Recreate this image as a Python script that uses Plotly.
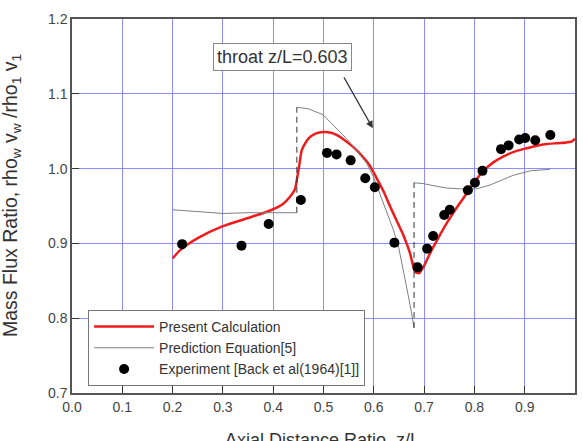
import plotly.graph_objects as go

# Present Calculation (red)
calc_x = [0.2, 0.215, 0.25, 0.30, 0.35, 0.394, 0.42, 0.433, 0.443, 0.447, 0.452, 0.457, 0.47, 0.485,
          0.5, 0.515, 0.526, 0.54, 0.559, 0.575, 0.592, 0.605, 0.619, 0.632, 0.645, 0.66, 0.672, 0.682,
          0.69, 0.70, 0.712, 0.728, 0.745, 0.765, 0.785, 0.80, 0.818, 0.837, 0.857, 0.877, 0.897, 0.92,
          0.944, 0.965, 0.983, 0.993, 1.0]
calc_y = [0.880, 0.891, 0.907, 0.923, 0.934, 0.944, 0.953, 0.962, 0.972, 0.985, 1.005, 1.025, 1.040, 1.047,
          1.049, 1.048, 1.045, 1.039, 1.029, 1.018, 1.004, 0.988, 0.970, 0.950, 0.931, 0.909, 0.887, 0.862,
          0.860, 0.870, 0.887, 0.907, 0.927, 0.948, 0.967, 0.982, 0.997, 1.008, 1.016, 1.022, 1.026, 1.030,
          1.033, 1.034, 1.035, 1.036, 1.040]

# Prediction Equation[5] (gray), three segments
pred_x = [0.2, 0.25, 0.30, 0.35, 0.40, 0.447, None,
          0.447, 0.47, 0.499, 0.52, 0.546, 0.565, 0.586, 0.60, 0.612, 0.625, 0.639, 0.65, 0.659, 0.668, 0.675, 0.68, None,
          0.68, 0.698, 0.72, 0.745, 0.771, 0.805, 0.831, 0.855, 0.877, 0.911, 0.95]
pred_y = [0.945, 0.942, 0.940, 0.941, 0.941, 0.941, None,
          1.082, 1.080, 1.072, 1.058, 1.040, 1.025, 1.007, 0.988, 0.967, 0.945, 0.918, 0.893, 0.860, 0.832, 0.807, 0.787, None,
          0.981, 0.980, 0.977, 0.974, 0.973, 0.973, 0.978, 0.985, 0.991, 0.997, 0.999]

# Dashed jumps
jump_x = [0.447, 0.447, None, 0.68, 0.68]
jump_y = [0.941, 1.082, None, 0.787, 0.981]

# Experiment [Back et al(1964)[1]]
exp_x = [0.219, 0.337, 0.391, 0.455, 0.507, 0.526, 0.554, 0.583, 0.602, 0.641, 0.687, 0.706, 0.718,
         0.740, 0.751, 0.787, 0.801, 0.816, 0.853, 0.868, 0.889, 0.901, 0.921, 0.951]
exp_y = [0.899, 0.897, 0.926, 0.958, 1.021, 1.019, 1.011, 0.987, 0.975, 0.901, 0.868, 0.893, 0.910,
         0.938, 0.945, 0.971, 0.981, 0.997, 1.026, 1.031, 1.039, 1.041, 1.038, 1.045]

x_ticks = [0.0, 0.1, 0.2, 0.3, 0.4, 0.5, 0.6, 0.7, 0.8, 0.9, 1.0]
y_ticks = [0.7, 0.8, 0.9, 1.0, 1.1, 1.2]

FONT = "Arial, Liberation Sans, sans-serif"

fig = go.Figure()
fig.add_trace(go.Scatter(x=calc_x, y=calc_y, mode="lines", name="Present Calculation",
                         line=dict(color="#ee1c1c", width=2.5, shape="spline", smoothing=0.6)))
fig.add_trace(go.Scatter(x=pred_x, y=pred_y, mode="lines", name="Prediction Equation[5]",
                         line=dict(color="#808080", width=1)))
fig.add_trace(go.Scatter(x=jump_x, y=jump_y, mode="lines", showlegend=False,
                         line=dict(color="#333333", width=1, dash="6px,4px")))
fig.add_trace(go.Scatter(x=exp_x, y=exp_y, mode="markers", name="Experiment [Back et al(1964)[1]]",
                         marker=dict(color="black", size=10)))

fig.add_annotation(x=0.4175, y=1.149, xref="x", yref="y", text="throat z/L=0.603", showarrow=False,
                   font=dict(family=FONT, size=18, color="#333333"),
                   bordercolor="#888888", borderwidth=1, borderpad=3, bgcolor="white")
fig.add_annotation(x=0.598, y=1.054, ax=0.539, ay=1.124, xref="x", yref="y", axref="x", ayref="y",
                   text="", showarrow=True, arrowhead=2, arrowsize=1.2, arrowwidth=1.2, arrowcolor="#333333")

# Axis titles
fig.add_annotation(x=0.499, y=-0.126, xref="paper", yref="paper", xanchor="center", yanchor="middle",
                   text="Axial Distance Ratio, z/L", showarrow=False,
                   font=dict(family=FONT, size=18, color="#333333"))
fig.add_annotation(x=-0.119, y=0.527, xref="paper", yref="paper", xanchor="center", yanchor="middle",
                   textangle=-90,
                   text="Mass Flux Ratio, rho<sub>w</sub> v<sub>w</sub> /rho<sub>1</sub> v<sub>1</sub>",
                   showarrow=False, font=dict(family=FONT, size=19.5, color="#333333"))

axis_common = dict(showline=True, linecolor="#555555", linewidth=1.5, mirror=True,
                   showgrid=True, gridcolor="#8c8cff", gridwidth=1, zeroline=False,
                   ticks="inside", ticklen=7, tickcolor="#333333",
                   tickfont=dict(family=FONT, size=14, color="#444444"))

fig.update_xaxes(range=[0, 1], tickvals=x_ticks, ticktext=[f"{v:.1f}" for v in x_ticks], **axis_common)
fig.update_yaxes(range=[0.7, 1.2], tickvals=y_ticks, ticktext=[f"{v:.1f}" for v in y_ticks], **axis_common)

fig.update_layout(width=583, height=441, margin=dict(l=72, r=8, t=19, b=48, autoexpand=False),
                  plot_bgcolor="white", paper_bgcolor="white",
                  font=dict(family=FONT),
                  legend=dict(x=0.032, y=0.222, xanchor="left", yanchor="top",
                              bgcolor="white", bordercolor="#777777", borderwidth=1,
                              font=dict(family=FONT, size=14, color="#333333"),
                              itemwidth=60, tracegroupgap=0))

fig.write_html("out.html")
